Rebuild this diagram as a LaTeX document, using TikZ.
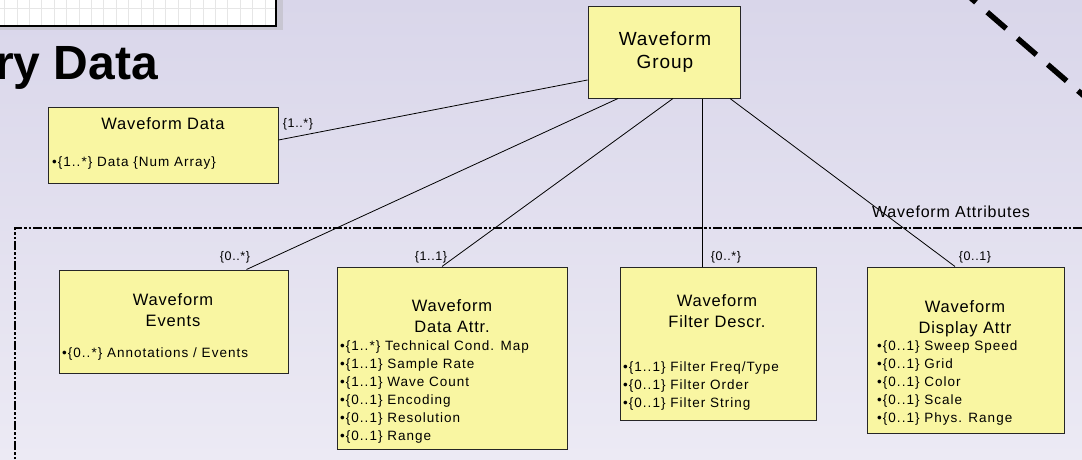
\documentclass[tikz,border=0pt]{standalone}
\usepackage{fontspec}
\setmainfont{Liberation Sans}
\newfontfamily\lsf[LetterSpace=5]{Liberation Sans}
\newfontfamily\asf[LetterSpace=7.5]{Liberation Sans}
\definecolor{boxfill}{RGB}{249,246,162}
\definecolor{bgtop}{RGB}{217,214,234}
\definecolor{bgbot}{RGB}{236,234,244}
\definecolor{gridc}{RGB}{230,230,230}
\definecolor{shadowc}{RGB}{200,198,210}
\begin{document}
\begin{tikzpicture}[x=1pt,y=-1pt,
  umlbox/.style={draw=black!85,line width=1pt,fill=boxfill,rectangle,inner sep=0pt},
  ttl/.style={font=\fontsize{16.5}{21}\lsf,align=center,inner sep=0pt},
  attr/.style={font=\fontsize{13.5}{18}\asf,align=left,inner sep=0pt,anchor=north west},
  mult/.style={font=\fontsize{12.5}{14}\lsf,inner sep=0pt},
  assoc/.style={draw=black,line width=0.8pt},
  container/.style={draw=black,line width=1.6pt,dash pattern=on 9pt off 2pt on 2.5pt off 2pt on 2.5pt off 2pt}]
\useasboundingbox (0,0) rectangle (1082,460);
\shade[top color=bgtop,bottom color=bgbot] (0,0) rectangle (1082,460);
% top-left framed grid
\fill[shadowc] (0,0) rectangle (283,30);
\fill[white] (0,0) rectangle (276,26);
\foreach \gx in {4.5,16.9,...,270} \draw[gridc,line width=0.6pt] (\gx,0) -- (\gx,26);
\draw[gridc,line width=0.6pt] (0,8.5) -- (276,8.5);
\draw[black,line width=1.8pt] (0,26) -- (276,26) -- (276,0);
% title
\node[anchor=base west,font=\fontsize{48}{54}\selectfont\bfseries,inner sep=0pt] (title) at (-5,80) {ry Data};
% thick dashed line
\coordinate (tda) at (957,-14);
\coordinate (tdb) at (1110,118.5);
\draw[line width=5.5pt,dash pattern=on 25pt off 15pt] (tda) -- (tdb);
% container
\coordinate (ca) at (15,470);
\coordinate (cb) at (15,228);
\coordinate (cc) at (1095,228);
\draw[container] (ca) -- (cb) -- (cc);
\node[font=\fontsize{16}{18}\lsf,inner sep=0pt] (cattr) at (951,212) {Waveform Attributes};
% boxes
\node[umlbox,minimum width=152,minimum height=91] (wg) at (664,52.5) {};
\node[ttl,font=\fontsize{19}{23}\lsf] (wgt) at (665,52.5) {Waveform\\Group};
\node[umlbox,minimum width=230,minimum height=76] (wd) at (163,145) {};
\node[ttl] (wdt) at (163,124) {Waveform Data};
\node[attr] (wda) at (52,157) {•\{1..*\} Data \{Num Array\}};
\node[umlbox,minimum width=229,minimum height=103] (ev) at (173.5,321.5) {};
\node[ttl] (evt) at (173,310.5) {Waveform\\Events};
\node[attr] (eva) at (62,348) {•\{0..*\} Annotations / Events};
\node[umlbox,minimum width=230,minimum height=182] (da) at (452,358) {};
\node[ttl] (dat) at (452,316) {Waveform\\Data Attr.};
\node[attr] (daa) at (340,341) {•\{1..*\} Technical Cond. Map\\•\{1..1\} Sample Rate\\•\{1..1\} Wave Count\\•\{0..1\} Encoding\\•\{0..1\} Resolution\\•\{0..1\} Range};
\node[umlbox,minimum width=196,minimum height=153] (fd) at (718,343.5) {};
\node[ttl] (fdt) at (717,311.5) {Waveform\\Filter Descr.};
\node[attr] (fda) at (623,362) {•\{1..1\} Filter Freq/Type\\•\{0..1\} Filter Order\\•\{0..1\} Filter String};
\node[umlbox,minimum width=197,minimum height=166] (dd) at (965.5,350) {};
\node[ttl] (ddt) at (965,318.5) {Waveform\\Display Attr};
\node[attr] (dda) at (877,341) {•\{0..1\} Sweep Speed\\•\{0..1\} Grid\\•\{0..1\} Color\\•\{0..1\} Scale\\•\{0..1\} Phys. Range};
% multiplicities
\node[mult] (m1) at (298,124) {\{1..*\}};
\node[mult] (m2) at (235,257) {\{0..*\}};
\node[mult] (m3) at (431,257) {\{1..1\}};
\node[mult] (m4) at (726,257) {\{0..*\}};
\node[mult] (m5) at (975,257) {\{0..1\}};
% associations
\draw[assoc] ([yshift=5pt]wd.east) -- ([yshift=-27.5pt]wg.west);
\draw[assoc] ([xshift=73pt]ev.north) -- ([xshift=-46pt]wg.south);
\draw[assoc] ([xshift=-10pt]da.north) -- ([xshift=9pt]wg.south);
\draw[assoc] ([xshift=-16pt]fd.north) -- ([xshift=38pt]wg.south);
\draw[assoc] ([xshift=-10.5pt]dd.north) -- ([xshift=66pt]wg.south);
\end{tikzpicture}
\end{document}
